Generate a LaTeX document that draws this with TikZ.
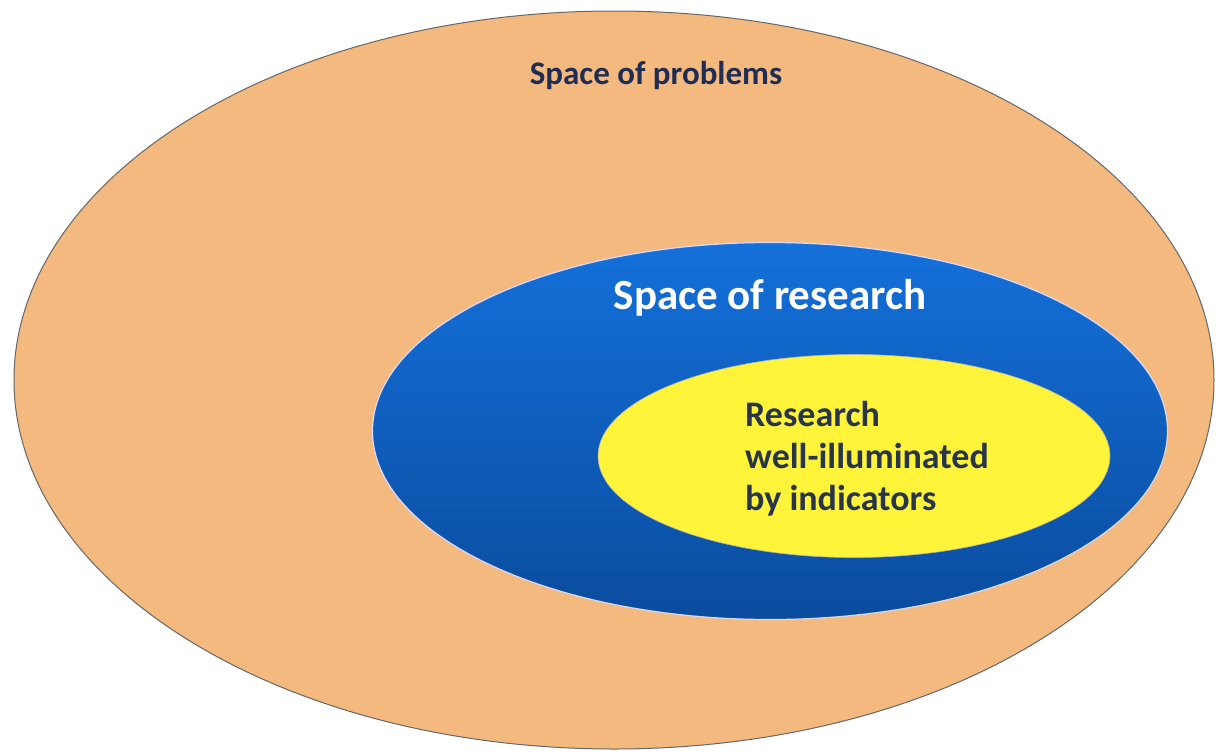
\documentclass[tikz,border=0pt]{standalone}
\usepackage{fontspec}
\setmainfont{Carlito}
\usepackage{xcolor}
\usetikzlibrary{shapes.geometric,positioning}
\definecolor{peach}{HTML}{F4B97F}
\definecolor{blueTop}{HTML}{1470DA}
\definecolor{blueBot}{HTML}{0A4C9E}
\definecolor{lemon}{HTML}{FFF43A}
\definecolor{navy}{HTML}{1F2D55}
\definecolor{ink}{HTML}{283448}

\begin{document}
\begin{tikzpicture}[x=1pt,y=-1pt,
	space/.style={ellipse,inner sep=0pt},
	label/.style={font=\bfseries,inner sep=0pt}]
		\useasboundingbox (0,0) rectangle (1216,753);
		\node[space,fill=peach,draw=gray!80!black,line width=1pt,minimum width=1200pt,minimum height=738pt] (problems) at (614,380) {};
		\node[space,top color=blueTop,bottom color=blueBot,draw=blue!15,line width=1.2pt,minimum width=795pt,minimum height=377pt] (research) at (770,431) {};
		\node[space,fill=lemon,draw=gray!60,line width=0.6pt,minimum width=512pt,minimum height=203pt] (lit) at (854,456) {};
	
		\node[label,text=navy,font=\bfseries\fontsize{33}{38}\selectfont] (tproblems) at (656,76) {Space of problems};
		\node[label,text=white,font=\bfseries\fontsize{43}{50}\selectfont] (tresearch) at (770,298) {Space of research};
		\node[label,text=ink,font=\bfseries\fontsize{36}{42}\selectfont,align=left,anchor=north west] (tlit) at (745,401) {Research\\well-illuminated\\by indicators};
		\end{tikzpicture}
\end{document}
